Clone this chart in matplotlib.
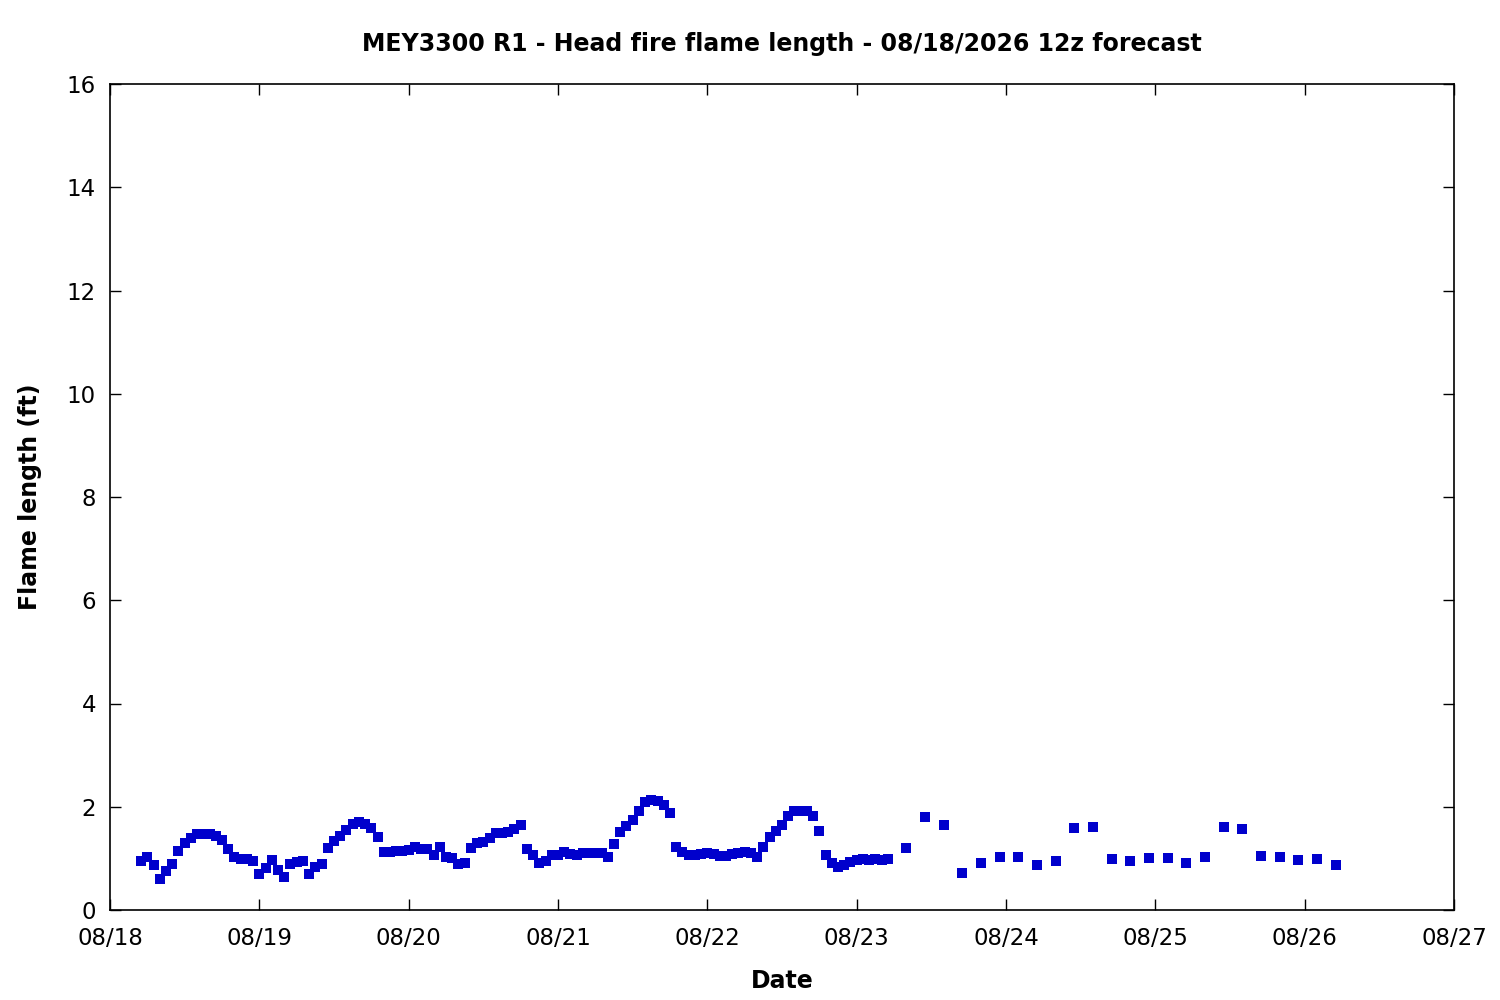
import numpy as np
import pandas as pd
import matplotlib
matplotlib.use('Agg')
import matplotlib.pyplot as plt
import matplotlib.dates as mdates

plt.rcParams['font.family'] = ['DejaVu Sans']

# forecast start (hourly readings, then 3-hourly)
start = pd.Timestamp('2026-08-18 00:00')
hourly_times = pd.date_range(start + pd.Timedelta(hours=5), periods=121, freq='h')
three_hr_times = pd.date_range(start + pd.Timedelta(hours=128), periods=24, freq='3h')

hourly_fl = [
    0.95, 1.03, 0.88, 0.61, 0.75, 0.90, 1.14, 1.30, 1.40, 1.48,
    1.48, 1.48, 1.44, 1.36, 1.18, 1.03, 0.98, 0.98, 0.94, 0.69,
    0.81, 0.97, 0.78, 0.63, 0.89, 0.93, 0.95, 0.69, 0.83, 0.89,
    1.20, 1.34, 1.44, 1.55, 1.66, 1.70, 1.67, 1.58, 1.41, 1.12,
    1.12, 1.14, 1.14, 1.16, 1.22,
    1.18, 1.18, 1.07, 1.22, 1.02, 1.00, 0.90, 0.92, 1.20, 1.30,
    1.32, 1.40, 1.49, 1.49, 1.51, 1.57, 1.65, 1.18, 1.06, 0.92,
    0.95, 1.07, 1.07, 1.12, 1.09, 1.06, 1.10, 1.10, 1.10, 1.10,
    1.02, 1.28, 1.51, 1.62, 1.74, 1.91, 2.09, 2.13, 2.11, 2.03,
    1.87, 1.23, 1.12, 1.06, 1.06, 1.08, 1.10,
    1.08, 1.05, 1.05, 1.08, 1.10, 1.13, 1.10, 1.02,
    1.23, 1.41, 1.53, 1.64, 1.82, 1.91, 1.91, 1.91, 1.82, 1.53,
    1.06, 0.92, 0.84, 0.88, 0.93, 0.97, 0.99, 0.96, 0.99, 0.96, 0.98,
]
three_hr_fl = [
    1.20, 1.80, 1.64, 0.71, 0.92, 1.02, 1.02, 0.87, 0.94, 1.58,
    1.60, 0.98, 0.94, 1.00, 1.00, 0.91, 1.02, 1.60, 1.56, 1.04,
    1.02, 0.96, 0.98, 0.87,
]

times = list(hourly_times) + list(three_hr_times)
fl = hourly_fl + three_hr_fl

fig = plt.figure(figsize=(15, 10), dpi=100)
ax = fig.add_axes([0.0733, 0.09, 0.896, 0.826])

ax.plot(times, fl, linestyle='none', marker='s', markersize=6.8,
        color='#0000cc', markeredgewidth=0)

ax.set_xlim(pd.Timestamp('2026-08-18'), pd.Timestamp('2026-08-27'))
ax.set_ylim(0, 16)
ax.set_yticks(np.arange(0, 17, 2))
ax.xaxis.set_major_locator(mdates.DayLocator())
ax.xaxis.set_major_formatter(mdates.DateFormatter('%m/%d'))

ax.tick_params(direction='in', length=8, width=1, labelsize=16.5,
               top=True, right=True)
ax.tick_params(axis='x', pad=12)
ax.tick_params(axis='y', pad=10)
for s in ax.spines.values():
    s.set_linewidth(1.2)

ax.set_title('MEY3300 R1 - Head fire flame length - 08/18/2026 12z forecast',
             fontsize=17, fontweight='bold', pad=24)
ax.set_xlabel('Date', fontsize=17, fontweight='bold', labelpad=14)
ax.set_ylabel('Flame length (ft)', fontsize=17, fontweight='bold', labelpad=18)

fig.savefig('out.png', dpi=100)
